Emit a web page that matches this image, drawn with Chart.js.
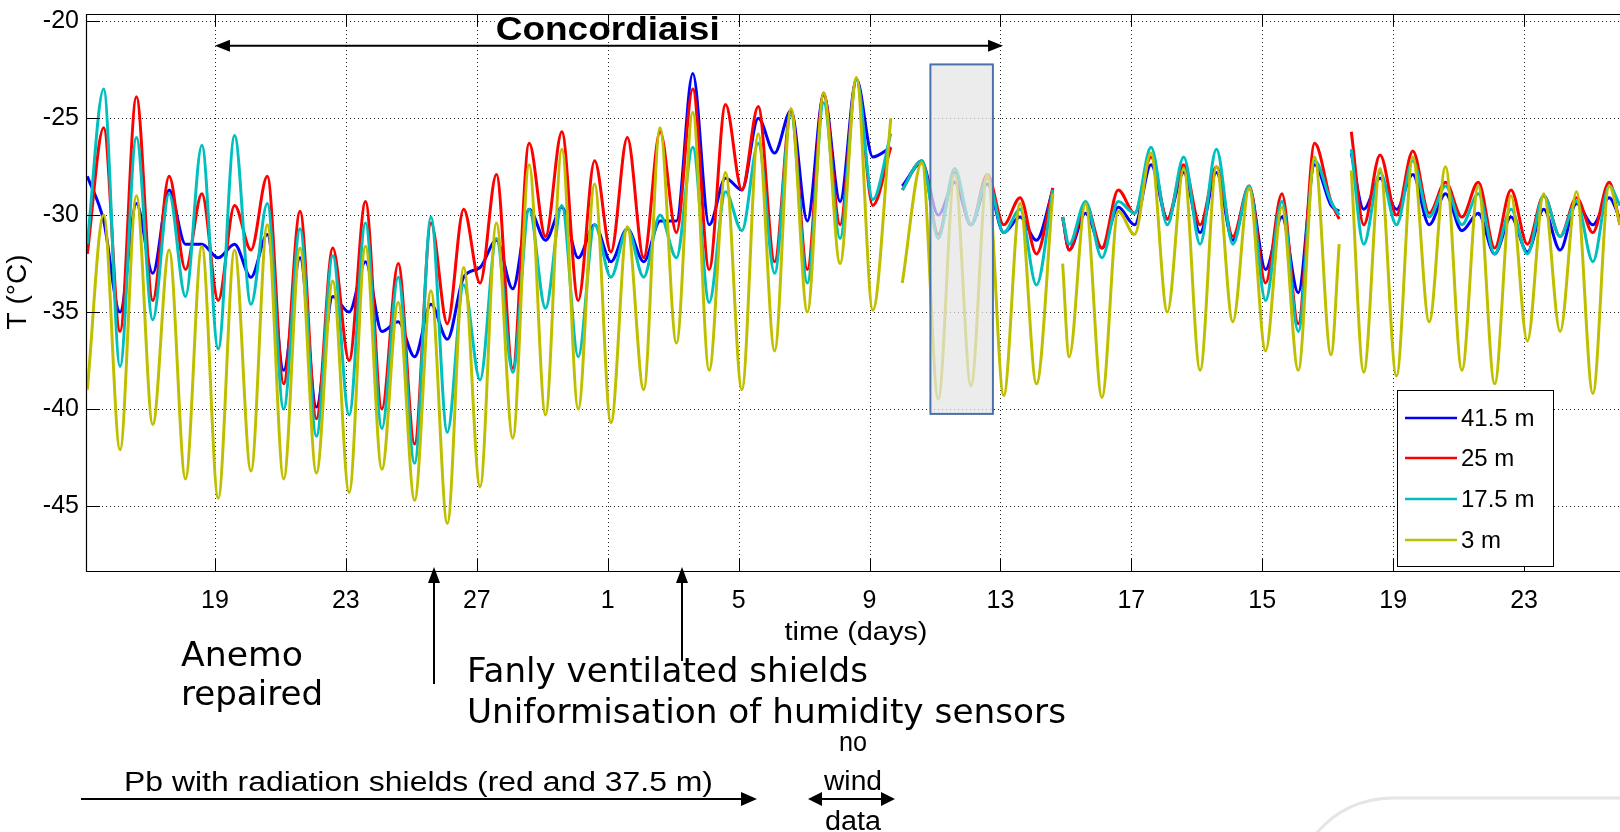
<!DOCTYPE html>
<html lang="en">
  <head>
    <meta charset="UTF-8" />
    <title>Concordiaisi temperatures</title>
    <script src="https://cdn.jsdelivr.net/npm/chart.js@4"></script>
    <style>
      body {
        margin: 0;
        background: #fff;
      }
      .chart-box {
        width: 1620px;
        height: 832px;
      }
    </style>
  </head>
  <body>
    <div class="chart-box">
      <canvas id="myChart" width="1620" height="832"></canvas>
    </div>
    <script>
      // time in days, 0 = first "19" tick; null rows are data gaps
      const times = [
        -3.9, -3.4, -2.9, -2.4, -1.9, -1.4, -0.9, -0.4, 0.1, 0.6, 1.1, 1.6, 2.1, 2.6, 3.1, 3.6, 4.1, 4.6, 5.1, 5.6,
        6.1, 6.6, 7.1, 7.6, 8.1, 8.6, 9.1, 9.6, 10.1, 10.6, 11.1, 11.6, 12.1, 12.6, 13.1, 13.6, 14.1, 14.6, 15.1, 15.6,
        16.1, 16.6, 17.1, 17.6, 18.1, 18.6, 19.1, 19.6, 20.1, 20.65, 20.8, 21.0, 21.6, 22.1, 22.6, 23.1, 23.6, 24.1, 24.6, 25.1,
        25.6, 25.75, 25.9, 26.1, 26.6, 27.1, 27.6, 28.1, 28.6, 29.1, 29.6, 30.1, 30.6, 31.1, 31.6, 32.1, 32.6, 33.1, 33.6, 34.1,
        34.35, 34.5, 34.72, 35.1, 35.6, 36.1, 36.6, 37.1, 37.6, 38.1, 38.6, 39.1, 39.6, 40.1, 40.6, 41.1, 41.6, 42.1, 42.6, 42.93,
      ];
      const temp41 = [
        -28, -30.3, -35, -29.4, -33, -28.7, -31.5, -31.5, -32.2, -31.5, -33.2, -31, -38, -32.2, -39.9, -34.2, -35, -32.4, -36, -35.5,
        -37.3, -34.6, -36.4, -33.2, -32.7, -31.3, -33.8, -29.7, -31.3, -29.6, -32.2, -30.5, -32.4, -30.7, -32.4, -30.3, -30.3, -22.7, -30.5, -28.1,
        -28.7, -25, -26.8, -24.6, -30.3, -23.8, -29.3, -23, -27, -26.5, null, -28.5, -27.3, -30, -28.3, -30.5, -28.4, -30.9, -30.1, -31.3,
        -28.7, null, -30.1, -31.8, -29.9, -31.7, -29.6, -30.5, -27.4, -30.2, -27.8, -30.9, -27.8, -31.3, -28.6, -32.8, -30.1, -34, -27.4, -29.5,
        -29.8, null, -26.8, -29.7, -28.1, -29.7, -27.9, -30.5, -28.9, -30.8, -29.9, -32, -30.1, -31.9, -29.7, -31.8, -29.4, -30.5, -29.1, -30.2,
      ];
      const temp25 = [
        -32, -25.5, -36, -23.9, -34.4, -28, -32.8, -28.9, -34.4, -29.5, -31.8, -28, -38.7, -29.8, -40.5, -31.7, -37.5, -29.3, -40, -32.5,
        -41.8, -30.4, -35.6, -29.7, -33.5, -27.9, -37.9, -26.3, -31.1, -25.7, -34.4, -27.2, -31.9, -26, -32.2, -25.7, -30.9, -23.5, -32.8, -24.3,
        -28.7, -24.4, -32.4, -24.6, -32.8, -23.7, -30.5, -23, -29.5, -26.5, null, -28.7, -27.2, -31, -27.8, -30.5, -27.9, -30.5, -29.1, -32,
        -28.6, null, -30.1, -31.8, -29.4, -31.7, -28.7, -29.9, -27, -30.2, -27.4, -30.5, -27.5, -31.1, -28.5, -33.5, -28.9, -35.6, -26.3, -29.3,
        -30.2, null, -25.7, -30.5, -26.9, -30, -26.7, -29.9, -28.3, -30.1, -28.3, -31.7, -28.7, -31.5, -29, -31.1, -29.1, -30.9, -28.3, -30.5,
      ];
      const temp17 = [
        -31.5, -23.5, -37.8, -26, -35.4, -28.9, -34.2, -26.4, -36.9, -25.9, -34.6, -29.4, -40, -30.7, -41.4, -32.1, -40.3, -30.4, -41, -33.2,
        -42.8, -30.1, -41.2, -33.6, -38.5, -31.2, -38.1, -29.7, -34.8, -29.5, -37.3, -30.5, -33.2, -30.7, -33.2, -30, -32.2, -26.5, -34.5, -28.8,
        -30.8, -26.3, -33, -24.8, -33.5, -24.2, -31.2, -23, -29.2, -25.8, null, -28.7, -27.2, -31.2, -27.6, -30.5, -28.1, -30.9, -29.7, -33.6,
        -28.7, null, -30.1, -31.5, -29.3, -32.2, -29.3, -29.9, -26.5, -30.5, -27, -31.5, -26.6, -31.5, -28.5, -34.4, -29.3, -36, -27.2, -29.3,
        -30, null, -26.6, -31.5, -27.8, -30.5, -27.2, -30.1, -28.5, -30.5, -28.9, -32, -29.7, -32, -29, -31.1, -29.3, -32.4, -28.5, -29.5,
      ];
      const temp3 = [
        -39, -30, -42.1, -29, -40.8, -31.8, -43.6, -31.6, -44.6, -31.8, -43.2, -30.5, -43.6, -31.7, -43.3, -33.4, -44.3, -31.6, -43.1, -34.5,
        -44.7, -33.9, -45.9, -32.7, -44, -30.4, -41.5, -27.4, -40.3, -26.6, -40, -28.4, -40.7, -30.6, -39, -25.5, -36.6, -24.7, -38, -27.8,
        -39, -25.8, -37, -24.5, -35, -23.7, -32.5, -22.9, -34.9, -25, null, -33.5, -27.3, -39.5, -27.9, -38.8, -27.9, -39.3, -29.4, -38.7,
        -28.9, null, -32.5, -37.3, -29.4, -39.4, -29.8, -31, -26.8, -35, -27.6, -38, -27.5, -35.5, -28.6, -37, -29.6, -38, -27, -37.2,
        -31.5, null, -27.7, -38.1, -27.6, -38.3, -27, -35.5, -27.5, -38, -28.5, -38.7, -29, -36.5, -28.9, -36, -28.8, -39.2, -28.5, -30.5,
      ];
      const seriesNames = ["41.5 m", "25 m", "17.5 m", "3 m"];
      const seriesColors = ["#0000ff", "#ff0000", "#00bfbf", "#bfbf00"];
      const dayTicks = [0, 4, 8, 12, 16, 20, 24, 28, 32, 36, 40];
      const dayLabels = ["19", "23", "27", "1", "5", "9", "13", "17", "15", "19", "23"];
      const tempTicks = [-45, -40, -35, -30, -25, -20];

      const toPoints = function (vals) {
        return times.map((t, i) => ({ x: t, y: vals[i] }));
      };

      const arrowHead = function (c, x, y, dir, len, half) {
        // dir: "l", "r", "u"
        c.beginPath();
        if (dir === "r") {
          c.moveTo(x, y);
          c.lineTo(x - len, y - half);
          c.lineTo(x - len, y + half);
        } else if (dir === "l") {
          c.moveTo(x, y);
          c.lineTo(x + len, y - half);
          c.lineTo(x + len, y + half);
        } else {
          c.moveTo(x, y);
          c.lineTo(x - half, y + len);
          c.lineTo(x + half, y + len);
        }
        c.closePath();
        c.fill();
      };

      const fitText = function (c, text, x, y, w, font, align) {
        c.font = font;
        const m = c.measureText(text).width;
        const left = align === "center" ? x - w / 2 : x;
        c.save();
        c.translate(left, y);
        c.scale(w / m, 1);
        c.textAlign = "left";
        c.textBaseline = "alphabetic";
        c.fillText(text, 0, 0);
        c.restore();
      };

      const sketch = {
        id: "sketch",
        beforeDatasetsDraw(chart) {
          const c = chart.ctx;
          const a = chart.chartArea;
          const xs = chart.scales.x;
          const ys = chart.scales.y;
          c.save();
          c.strokeStyle = "#222";
          c.lineWidth = 1;
          c.setLineDash([1, 3]);
          dayTicks.forEach((d) => {
            const px = Math.round(xs.getPixelForValue(d)) + 0.5;
            c.beginPath();
            c.moveTo(px, a.top);
            c.lineTo(px, a.bottom);
            c.stroke();
          });
          tempTicks.forEach((t) => {
            const py = Math.round(ys.getPixelForValue(t)) + 0.5;
            c.beginPath();
            c.moveTo(a.left, py);
            c.lineTo(a.right, py);
            c.stroke();
          });
          c.restore();
        },
        afterDatasetsDraw(chart) {
          const c = chart.ctx;
          const a = chart.chartArea;
          const xs = chart.scales.x;
          const ys = chart.scales.y;
          c.save();

          // shaded box over the 11-13 period
          const bx0 = xs.getPixelForValue(21.86);
          const bx1 = xs.getPixelForValue(23.77);
          const by0 = ys.getPixelForValue(-22.23);
          const by1 = ys.getPixelForValue(-40.25);
          c.fillStyle = "rgba(228,228,228,0.72)";
          c.fillRect(bx0, by0, bx1 - bx0, by1 - by0);
          c.strokeStyle = "#4a72a8";
          c.lineWidth = 2;
          c.strokeRect(bx0, by0, bx1 - bx0, by1 - by0);

          // Concordiaisi span
          const ay = ys.getPixelForValue(-21.27);
          const ax0 = xs.getPixelForValue(0);
          const ax1 = xs.getPixelForValue(24.08);
          c.fillStyle = "#000";
          c.strokeStyle = "#000";
          c.lineWidth = 2;
          c.beginPath();
          c.moveTo(ax0 + 10, ay);
          c.lineTo(ax1 - 10, ay);
          c.stroke();
          arrowHead(c, ax0, ay, "l", 15, 6);
          arrowHead(c, ax1, ay, "r", 15, 6);
          const tx = xs.getPixelForValue(12);
          c.fillStyle = "#fff";
          c.fillRect(tx - 113, ay - 30, 226, 26);
          c.fillStyle = "#000";
          fitText(c, "Concordiaisi", tx, ay - 6, 224, "bold 33px 'Liberation Sans', Arial", "center");

          // axes box and inward ticks
          c.strokeStyle = "#000";
          c.lineWidth = 1.2;
          c.beginPath();
          c.moveTo(a.right, a.top + 0.5);
          c.lineTo(a.left + 0.5, a.top + 0.5);
          c.lineTo(a.left + 0.5, a.bottom + 0.5);
          c.lineTo(a.right, a.bottom + 0.5);
          c.stroke();
          c.lineWidth = 1;
          dayTicks.forEach((d) => {
            const px = Math.round(xs.getPixelForValue(d)) + 0.5;
            c.beginPath();
            c.moveTo(px, a.bottom);
            c.lineTo(px, a.bottom - 12);
            c.moveTo(px, a.top);
            c.lineTo(px, a.top + 12);
            c.stroke();
          });
          tempTicks.forEach((t) => {
            const py = Math.round(ys.getPixelForValue(t)) + 0.5;
            c.beginPath();
            c.moveTo(a.left, py);
            c.lineTo(a.left + 14, py);
            c.stroke();
          });

          // legend
          const lx = 1397.5;
          const ly = 390.5;
          c.fillStyle = "#fff";
          c.fillRect(lx, ly, 156, 176);
          c.strokeStyle = "#000";
          c.lineWidth = 1;
          c.strokeRect(lx, ly, 156, 176);
          const rows = [418, 458, 499, 540];
          seriesNames.forEach((name, i) => {
            c.strokeStyle = seriesColors[i];
            c.lineWidth = 2.5;
            c.beginPath();
            c.moveTo(1405, rows[i]);
            c.lineTo(1457, rows[i]);
            c.stroke();
            c.fillStyle = "#000";
            c.font = "24px 'Liberation Sans', Arial";
            c.textAlign = "left";
            c.textBaseline = "middle";
            c.fillText(name, 1461, rows[i] + 1);
          });
          c.restore();
        },
        afterDraw(chart) {
          const c = chart.ctx;
          c.save();
          c.fillStyle = "#000";
          c.strokeStyle = "#000";

          // y axis title
          c.save();
          c.translate(18, 292);
          c.rotate(-Math.PI / 2);
          c.font = "28px 'Liberation Sans', Arial";
          c.textAlign = "center";
          c.textBaseline = "middle";
          c.fillText("T (\u00b0C)", 0, 0);
          c.restore();

          fitText(c, "time (days)", 856, 640, 143, "26px 'Liberation Sans', Arial", "center");

          // event arrows
          c.lineWidth = 2;
          [
            [434, 684],
            [682, 661],
          ].forEach(([x, y]) => {
            c.beginPath();
            c.moveTo(x, y);
            c.lineTo(x, 580);
            c.stroke();
            arrowHead(c, x, 567, "u", 16, 6);
          });

          const sans = "33px 'DejaVu Sans'";
          fitText(c, "Anemo", 181, 666, 122, sans, "left");
          fitText(c, "repaired", 181, 705, 142, sans, "left");
          fitText(c, "Fanly ventilated shields", 467, 682, 401, sans, "left");
          fitText(c, "Uniformisation of humidity sensors", 467, 723, 599, sans, "left");

          const narrow = "27px 'Liberation Sans', Arial";
          fitText(c, "Pb with radiation shields (red and 37.5 m)", 124, 791, 589, narrow, "left");
          fitText(c, "no", 853, 751, 28, narrow, "center");
          fitText(c, "wind", 853, 790, 58, narrow, "center");
          fitText(c, "data", 853, 830, 56, narrow, "center");

          c.lineWidth = 2;
          c.beginPath();
          c.moveTo(81, 799);
          c.lineTo(745, 799);
          c.moveTo(818, 799);
          c.lineTo(885, 799);
          c.stroke();
          arrowHead(c, 757, 799, "r", 16, 7);
          arrowHead(c, 808, 799, "l", 14, 7);
          arrowHead(c, 895, 799, "r", 14, 7);

          // faint background frame corner
          c.strokeStyle = "rgba(205,205,215,0.55)";
          c.lineWidth = 3;
          c.beginPath();
          c.moveTo(1316, 834);
          c.quadraticCurveTo(1345, 799, 1392, 798);
          c.lineTo(1620, 798);
          c.stroke();
          c.restore();
        },
      };

      const ctx = document.getElementById("myChart");
      const tickFont = { family: "'Liberation Sans', Arial", size: 25 };
      new Chart(ctx, {
        type: "line",
        data: {
          datasets: [
            { label: seriesNames[0], data: toPoints(temp41), borderColor: seriesColors[0], order: 3 },
            { label: seriesNames[1], data: toPoints(temp25), borderColor: seriesColors[1], order: 2 },
            { label: seriesNames[2], data: toPoints(temp17), borderColor: seriesColors[2], order: 1 },
            { label: seriesNames[3], data: toPoints(temp3), borderColor: seriesColors[3], order: 0 },
          ],
        },
        options: {
          responsive: false,
          animation: false,
          devicePixelRatio: 1,
          layout: { padding: { top: 14, left: 0, right: 0, bottom: 0 } },
          elements: {
            point: { radius: 0 },
            line: { borderWidth: 3, cubicInterpolationMode: "monotone" },
          },
          scales: {
            x: {
              type: "linear",
              min: -3.94,
              max: 42.93,
              afterBuildTicks: (s) => {
                s.ticks = dayTicks.map((v) => ({ value: v }));
              },
              afterFit: (s) => {
                s.height = 261;
                s.paddingLeft = 0;
                s.paddingRight = 0;
              },
              grid: { display: false, drawTicks: false },
              border: { display: false },
              ticks: {
                padding: 15,
                color: "#000",
                autoSkip: false,
                maxRotation: 0,
                font: { family: "'Liberation Sans', Arial", size: 25 },
                callback: (v) => {
                  const i = dayTicks.indexOf(v);
                  return i >= 0 ? dayLabels[i] : "";
                },
              },
            },
            y: {
              min: -48.35,
              max: -19.63,
              afterBuildTicks: (s) => {
                s.ticks = tempTicks.map((v) => ({ value: v }));
              },
              afterFit: (s) => {
                s.width = 86;
                s.paddingTop = 0;
                s.paddingBottom = 0;
              },
              grid: { display: false, drawTicks: false },
              border: { display: false },
              ticks: { padding: 7, color: "#000", font: tickFont },
            },
          },
          plugins: {
            legend: { display: false },
            tooltip: { enabled: false },
          },
        },
        plugins: [sketch],
      });
    </script>
  </body>
</html>
